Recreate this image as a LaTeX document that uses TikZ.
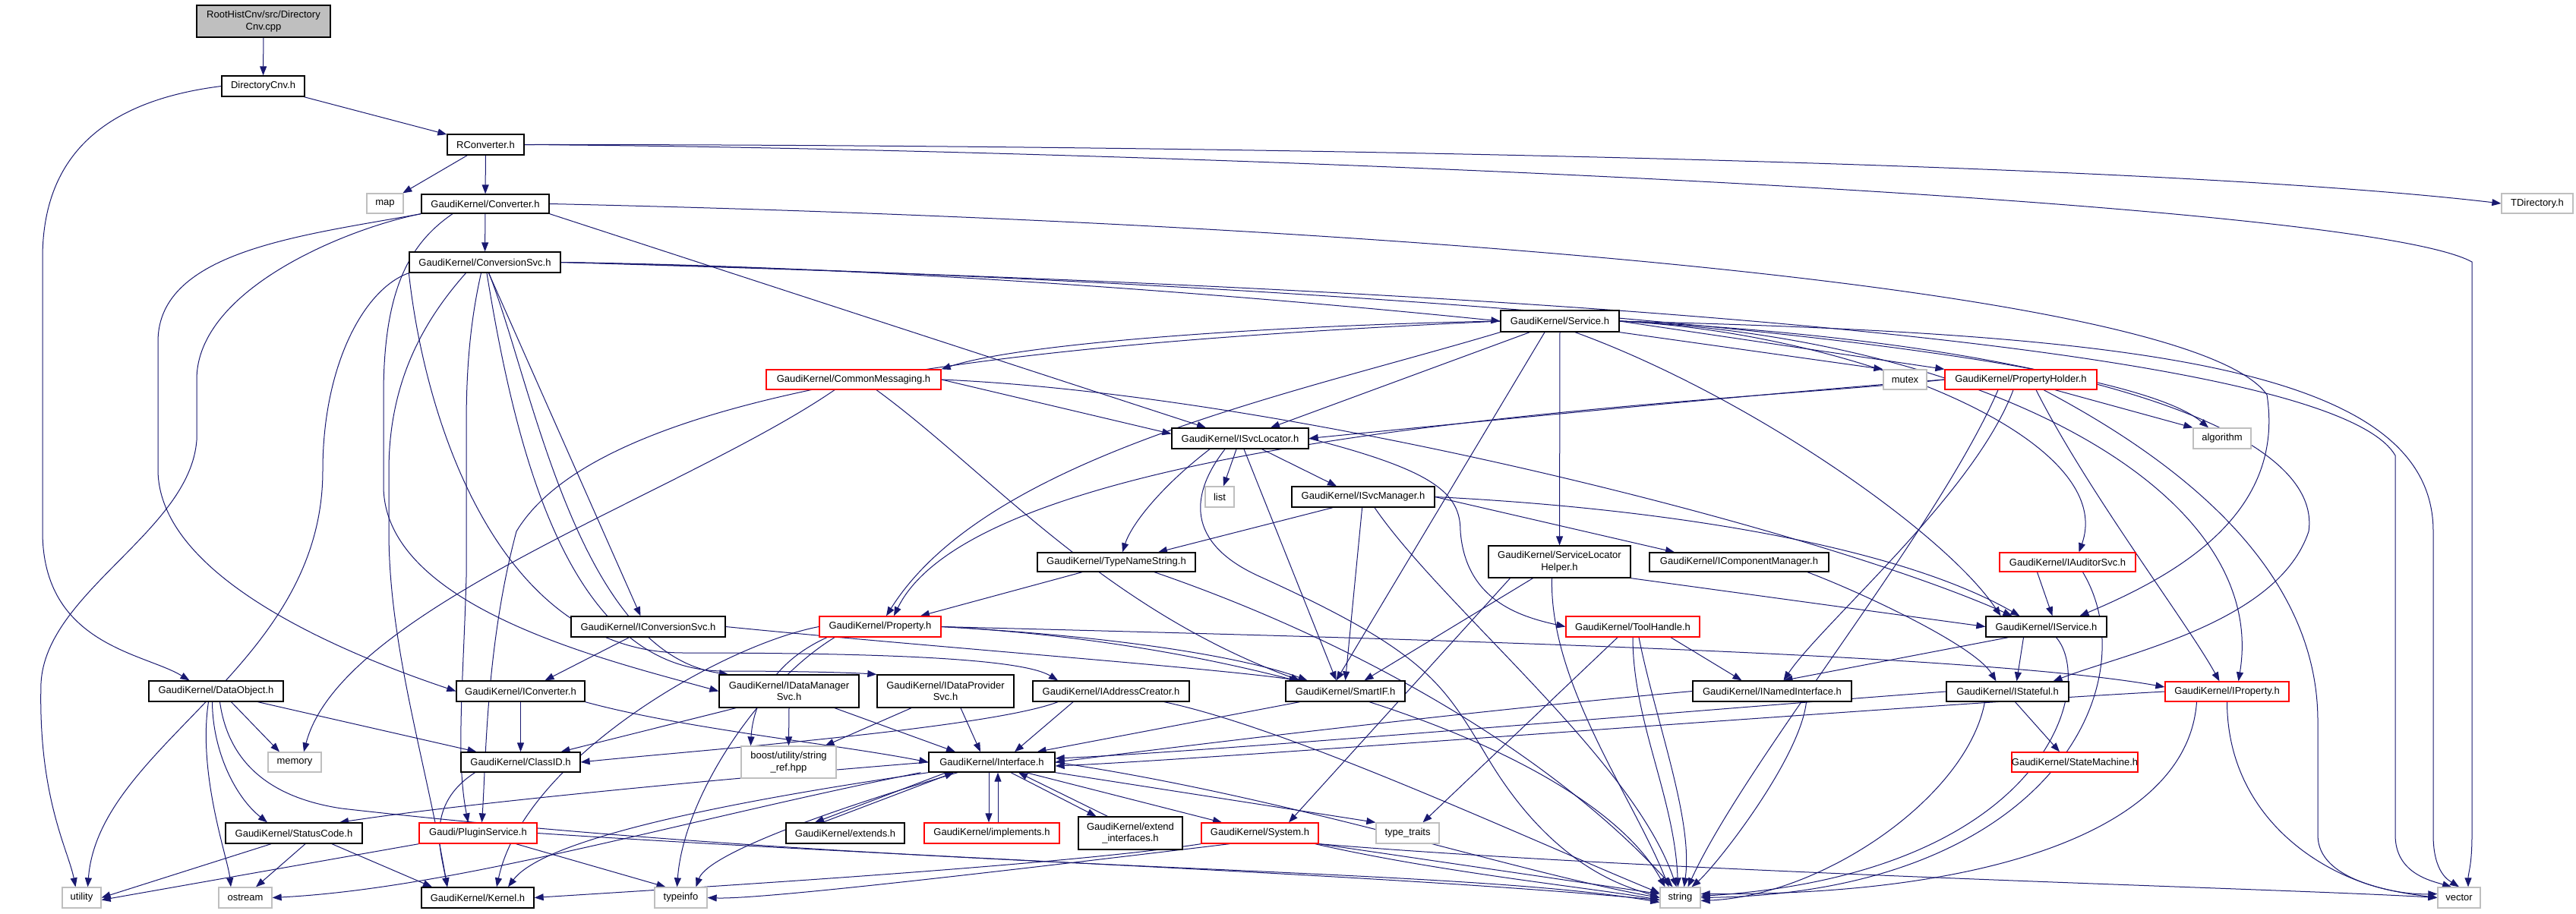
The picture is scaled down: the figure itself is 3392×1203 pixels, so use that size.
\documentclass[tikz,border=0pt]{standalone}
\usepackage{fontspec}
\setmainfont{Liberation Sans}
\usetikzlibrary{arrows.meta,backgrounds}
\definecolor{edgeblue}{HTML}{191970}
\definecolor{boxgray}{HTML}{BFBFBF}
\newcommand{\hfnt}{\fontsize{13}{15.5}\selectfont}
\newcommand{\incfile}[7]{\node[#1, minimum width=#5pt, minimum height=#6pt] (#2) at (#3,#4) {#7};}
\tikzset{
  hdr/.style={draw=black, line width=1.3pt, font=\hfnt, inner sep=0pt, align=center, fill=white},
  sysfile/.style={hdr, draw=boxgray},
  redfile/.style={hdr, draw=red},
  mainfile/.style={hdr, fill=boxgray},
  dep/.style={draw=edgeblue, line width=1pt, -{Triangle[length=12pt,width=9pt]}}
}

\begin{document}
\begin{tikzpicture}[x=1pt,y=-1pt]
  \useasboundingbox (0,0) rectangle (3392,1203);
  % files
  \incfile{mainfile}{root}{347}{28}{176}{42}{RootHistCnv/src/Directory\\Cnv.cpp}
  \incfile{hdr}{dircnv}{346.5}{113.5}{109}{27}{DirectoryCnv.h}
  \incfile{hdr}{rconv}{639.5}{190.5}{101}{27}{RConverter.h}
  \incfile{sysfile}{map}{507}{268}{48}{26}{map}
  \incfile{hdr}{converter}{639}{268.5}{168}{25}{GaudiKernel/Converter.h}
  \incfile{hdr}{convsvc}{638.5}{345.5}{199}{27}{GaudiKernel/ConversionSvc.h}
  \incfile{sysfile}{tdir}{3341}{268}{94}{26}{TDirectory.h}
  \incfile{hdr}{service}{2054}{423}{156}{28}{GaudiKernel/Service.h}
  \incfile{redfile}{commsg}{1124}{500}{230}{26}{GaudiKernel/CommonMessaging.h}
  \incfile{sysfile}{mutex}{2508.5}{500}{57}{26}{mutex}
  \incfile{redfile}{propholder}{2661}{500}{200}{26}{GaudiKernel/PropertyHolder.h}
  \incfile{hdr}{isvcloc}{1633}{577.5}{180}{27}{GaudiKernel/ISvcLocator.h}
  \incfile{sysfile}{algorithm}{2926}{577.5}{76}{27}{algorithm}
  \incfile{sysfile}{list}{1606}{654.5}{38}{27}{list}
  \incfile{hdr}{isvcmgr}{1795}{654.5}{188}{27}{GaudiKernel/ISvcManager.h}
  \incfile{hdr}{typename}{1470}{740.5}{208}{25}{GaudiKernel/TypeNameString.h}
  \incfile{hdr}{slh}{2053.5}{740}{187}{42}{GaudiKernel/ServiceLocator\\Helper.h}
  \incfile{hdr}{icompmgr}{2290}{740.5}{236}{25}{GaudiKernel/IComponentManager.h}
  \incfile{redfile}{iauditor}{2722.5}{740.5}{179}{25}{GaudiKernel/IAuditorSvc.h}
  \incfile{hdr}{iconvsvc}{853.5}{825.5}{203}{27}{GaudiKernel/IConversionSvc.h}
  \incfile{redfile}{property}{1159}{825.5}{160}{27}{GaudiKernel/Property.h}
  \incfile{redfile}{toolhandle}{2150}{825.5}{176}{27}{GaudiKernel/ToolHandle.h}
  \incfile{hdr}{iservice}{2694.5}{825.5}{159}{27}{GaudiKernel/IService.h}
  \incfile{hdr}{dataobj}{284.5}{910.5}{177}{27}{GaudiKernel/DataObject.h}
  \incfile{hdr}{iconverter}{685.5}{910.5}{169}{27}{GaudiKernel/IConverter.h}
  \incfile{hdr}{idatamgr}{1039}{910.5}{184}{43}{GaudiKernel/IDataManager\\Svc.h}
  \incfile{hdr}{idataprov}{1245}{910.5}{180}{43}{GaudiKernel/IDataProvider\\Svc.h}
  \incfile{hdr}{iaddr}{1463}{910.5}{206}{27}{GaudiKernel/IAddressCreator.h}
  \incfile{hdr}{smartif}{1771.5}{910.5}{157}{27}{GaudiKernel/SmartIF.h}
  \incfile{hdr}{inamed}{2333.5}{910.5}{209}{27}{GaudiKernel/INamedInterface.h}
  \incfile{hdr}{istateful}{2643.5}{911}{161}{26}{GaudiKernel/IStateful.h}
  \incfile{redfile}{iproperty}{2932.5}{911}{163}{26}{GaudiKernel/IProperty.h}
  \incfile{sysfile}{memory}{388}{1004}{70}{26}{memory}
  \incfile{hdr}{classid}{685.5}{1004}{157}{26}{GaudiKernel/ClassID.h}
  \incfile{sysfile}{boost}{1038.5}{1004}{125}{42}{boost/utility/string\\\_ref.hpp}
  \incfile{hdr}{interface}{1306}{1004}{166}{26}{GaudiKernel/Interface.h}
  \incfile{redfile}{statemachine}{2732}{1004}{160}{26}{GaudiKernel/StateMachine.h}
  \incfile{hdr}{statuscode}{387}{1097.5}{180}{27}{GaudiKernel/StatusCode.h}
  \incfile{redfile}{plugin}{629.5}{1097.5}{155}{27}{Gaudi/PluginService.h}
  \incfile{hdr}{extends}{1113}{1097.5}{156}{27}{GaudiKernel/extends.h}
  \incfile{redfile}{implements}{1306}{1097.5}{178}{27}{GaudiKernel/implements.h}
  \incfile{hdr}{extendif}{1488.5}{1097.5}{137}{43}{GaudiKernel/extend\\\_interfaces.h}
  \incfile{redfile}{system}{1659}{1097.5}{154}{27}{GaudiKernel/System.h}
  \incfile{sysfile}{typetraits}{1853.5}{1097.5}{83}{27}{type\_traits}
  \incfile{sysfile}{utility}{107.5}{1182.5}{51}{27}{utility}
  \incfile{sysfile}{ostream}{323}{1182.5}{70}{27}{ostream}
  \incfile{hdr}{kernel}{629}{1182.5}{148}{27}{GaudiKernel/Kernel.h}
  \incfile{sysfile}{typeinfo}{896.5}{1182.5}{69}{27}{typeinfo}
  \incfile{sysfile}{string}{2212.5}{1182.5}{53}{27}{string}
  \incfile{sysfile}{vector}{3238}{1182.5}{56}{27}{vector}

  \begin{pgfonlayer}{background}
  % top of the graph
  \draw[dep] (root) -- (dircnv);
  \draw[dep] (dircnv) -- (rconv);
  \draw[dep] (dircnv.west) .. controls (120,135) and (56,220) .. (56,340) -- (56,700) .. controls (56,850) and (190,860) .. ([xshift=-35pt]dataobj.north);
  \draw[dep] (rconv) -- (map);
  \draw[dep] (rconv) -- (converter);
  \draw[dep] (rconv.east) .. controls (1500,190) and (2800,210) .. (tdir.west);
  \draw[dep] (rconv.east) .. controls (1500,196) and (3100,260) .. (3255,345) -- (3255,1100) .. controls (3255,1140) and (3250,1150) .. ([xshift=12pt]vector.north);
  % Converter.h
  \draw[dep] (converter) -- (convsvc);
  \draw[dep] (converter.south east) -- ([xshift=-45pt]isvcloc.north);
  \draw[dep] (converter.east) .. controls (1700,290) and (2880,370) .. (2985,520) .. controls (3010,680) and (2860,760) .. ([xshift=44pt]iservice.north);
  \draw[dep] (converter.south west) .. controls (400,310) and (208,330) .. (208,450) -- (208,620) .. controls (210,760) and (450,860) .. (iconverter.west);
  \draw[dep] (converter.south west) .. controls (460,300) and (259,380) .. (259,500) -- (259,580) .. controls (250,700) and (60,780) .. (54,900) .. controls (50,1050) and (90,1120) .. ([xshift=-8pt]utility.north);
  \draw[dep] ([xshift=-43pt]converter.south) .. controls (540,320) and (505,380) .. (505,520) -- (505,640) .. controls (505,800) and (800,870) .. (idatamgr.west);
  % ConversionSvc.h
  \draw[dep] (convsvc.east) .. controls (1200,352) and (1700,395) .. (service.west);
  \draw[dep] (convsvc.east) .. controls (1400,360) and (2750,430) .. ([xshift=-18pt]algorithm.north);
  \draw[dep] (convsvc.east) .. controls (1500,368) and (3050,420) .. (3154,600) -- (3154,1100) .. controls (3154,1150) and (3200,1160) .. ([xshift=-10pt]vector.north);
  \draw[dep] ([xshift=5pt]convsvc.south) -- ([xshift=-10pt]iconvsvc.north);
  \draw[dep] ([xshift=-5pt]convsvc.south) .. controls (620,420) and (614,480) .. (614,560) -- (614,760) .. controls (610,900) and (600,1000) .. ([xshift=-13pt]plugin.north);
  \draw[dep] ([xshift=-25pt]convsvc.south) .. controls (560,420) and (512,500) .. (512,620) -- (512,700) .. controls (512,850) and (560,1000) .. ([xshift=-40pt]kernel.north);
  \draw[dep] (convsvc.south west) .. controls (560,560) and (660,860) .. (900,860) .. controls (1200,860) and (1350,870) .. ([xshift=-70pt]iaddr.north);
  \draw[dep] (convsvc.-70) .. controls (700,500) and (760,860) .. ([xshift=-80pt]idatamgr.north);
  \draw[dep] (convsvc.-80) .. controls (680,600) and (750,880) .. (950,884) .. controls (1050,884) and (1120,886) .. (idataprov.north west);
  \draw[dep] (convsvc.south west) .. controls (480,380) and (425,480) .. (425,620) .. controls (425,880) and (130,980) .. ([xshift=8pt]utility.north);
  % Service.h
  \draw[dep] (service.west) .. controls (1700,428) and (1350,450) .. (commsg.north east);
  \draw[dep] (service) -- ([xshift=40pt]isvcloc.north);
  \draw[dep] (service.south east) -- (mutex.north west);
  \draw[dep] (service.east) -- (propholder.north west);
  \draw[dep] (service.south west) .. controls (1700,520) and (1300,600) .. ([xshift=8pt]property.north);
  \draw[dep] (service) -- (slh);
  \draw[dep] ([xshift=20pt]service.south) .. controls (2300,520) and (2560,700) .. ([xshift=-60pt]iservice.north);
  \draw[dep] ([xshift=-20pt]service.south) -- ([xshift=-12pt]smartif.north);
  \draw[dep] (service.east) .. controls (2450,440) and (2790,580) .. ([xshift=15pt]iauditor.north);
  \draw[dep] (service.east) .. controls (2600,445) and (2990,640) .. ([xshift=15pt]iproperty.north);
  \draw[dep] (service.east) .. controls (2700,450) and (3060,560) .. (3040,700) .. controls (3000,820) and (2800,860) .. ([xshift=60pt]istateful.north);
  \draw[dep] (service.east) .. controls (2800,440) and (3204,480) .. (3204,700) -- (3204,1100) .. controls (3204,1150) and (3225,1160) .. (vector.north);
  \draw[dep] (service.west) .. controls (1400,450) and (800,500) .. (680,700) .. controls (640,850) and (640,1000) .. ([xshift=5pt]plugin.north);
  % CommonMessaging.h
  \draw[dep] (commsg.east) -- ([yshift=6pt]isvcloc.west);
  \draw[dep] (commsg.east) .. controls (1700,520) and (2400,700) .. ([xshift=-45pt]iservice.north);
  \draw[dep] ([xshift=30pt]commsg.south) .. controls (1300,620) and (1450,800) .. ([xshift=-60pt]smartif.north);
  \draw[dep] ([xshift=-25pt]commsg.south) .. controls (900,650) and (450,800) .. ([xshift=12pt]memory.north);
  % PropertyHolder.h
  \draw[dep] (propholder.west) .. controls (2300,520) and (1900,560) .. (isvcloc.east);
  \draw[dep] ([xshift=45pt]propholder.south) -- (algorithm.north west);
  \draw[dep] ([xshift=-10pt]propholder.south) .. controls (2600,650) and (2400,820) .. ([xshift=15pt]inamed.north);
  \draw[dep] ([xshift=20pt]propholder.south) .. controls (2750,650) and (2880,820) .. ([xshift=-10pt]iproperty.north);
  \draw[dep] (propholder.west) .. controls (2300,530) and (1300,560) .. ([xshift=18pt]property.north);
  \draw[dep] ([xshift=30pt]propholder.south) .. controls (2950,650) and (3052,800) .. (3052,950) -- (3052,1100) .. controls (3052,1160) and (3150,1175) .. (vector.west);
  \draw[dep] ([xshift=-30pt]propholder.south) .. controls (2550,700) and (2300,1000) .. ([xshift=10pt]string.north);
  % ISvcLocator.h
  \draw[dep] (isvcloc) -- (list);
  \draw[dep] (isvcloc) -- ([xshift=-35pt]isvcmgr.north);
  \draw[dep] ([xshift=-40pt]isvcloc.south) .. controls (1530,640) and (1490,690) .. ([xshift=8pt]typename.north);
  \draw[dep] ([xshift=5pt]isvcloc.south) -- ([xshift=-12pt]smartif.north);
  \draw[dep] ([xshift=-20pt]isvcloc.south) .. controls (1560,660) and (1570,720) .. (1660,760) .. controls (1880,860) and (1900,900) .. (1960,1000) .. controls (2050,1150) and (2150,1170) .. (string.west);
  \draw[dep] (isvcloc.east) .. controls (1890,620) and (1923,650) .. (1923,700) .. controls (1930,790) and (2000,812) .. (toolhandle.west);
  % ISvcManager.h
  \draw[dep] ([xshift=-40pt]isvcmgr.south) -- ([xshift=55pt]typename.north);
  \draw[dep] (isvcmgr) -- (smartif.north);
  \draw[dep] ([xshift=15pt]isvcmgr.south) .. controls (1900,800) and (2150,1000) .. ([xshift=-5pt]string.north);
  \draw[dep] (isvcmgr.east) -- ([xshift=-85pt]icompmgr.north);
  \draw[dep] (isvcmgr.east) .. controls (2200,670) and (2500,720) .. ([xshift=-35pt]iservice.north);
  \draw[dep] ([xshift=90pt]icompmgr.south) .. controls (2450,780) and (2600,850) .. ([xshift=-15pt]istateful.north);
  % TypeNameString.h and ServiceLocatorHelper.h
  \draw[dep] ([xshift=-45pt]typename.south) -- ([xshift=53pt]property.north);
  \draw[dep] ([xshift=50pt]typename.south) .. controls (1800,850) and (2050,1000) .. ([xshift=-10pt]string.north);
  \draw[dep] ([xshift=-35pt]slh.south) -- ([xshift=25pt]smartif.north);
  \draw[dep] (slh.south east) -- (iservice.west);
  \draw[dep] ([xshift=-10pt]slh.south) .. controls (2040,900) and (2150,1050) .. ([xshift=-15pt]string.north);
  \draw[dep] ([xshift=-65pt]slh.south) -- ([xshift=38pt]system.north);
  % ToolHandle.h
  \draw[dep] ([xshift=50pt]toolhandle.south) -- ([xshift=-40pt]inamed.north);
  \draw[dep] ([xshift=-20pt]toolhandle.south) -- ([xshift=20pt]typetraits.north);
  \draw[dep] (toolhandle.south) .. controls (2150,950) and (2205,1050) .. ([xshift=-3pt]string.north);
  \draw[dep] ([xshift=8pt]toolhandle.south) .. controls (2180,950) and (2230,1080) .. ([xshift=5pt]string.north);
  % IAuditorSvc.h, IService.h, INamedInterface.h, IStateful.h, IProperty.h
  \draw[dep] ([xshift=-40pt]iauditor.south) -- ([xshift=8pt]iservice.north);
  \draw[dep] ([xshift=20pt]iauditor.south) .. controls (2830,900) and (2700,1175) .. (string.east);
  \draw[dep] ([xshift=-50pt]iservice.south) -- ([xshift=15pt]inamed.north);
  \draw[dep] ([xshift=-30pt]iservice.south) -- ([xshift=12pt]istateful.north);
  \draw[dep] ([xshift=13pt]iservice.south) .. controls (2760,900) and (2700,1150) .. ([yshift=2pt]string.east);
  \draw[dep] (inamed.west) .. controls (1900,940) and (1500,990) .. (interface.east);
  \draw[dep] ([xshift=45pt]inamed.south) .. controls (2370,1000) and (2260,1140) .. ([xshift=15pt]string.north);
  \draw[dep] (istateful.west) .. controls (2300,930) and (1600,990) .. ([yshift=5pt]interface.east);
  \draw[dep] ([xshift=10pt]istateful.south) -- ([xshift=-20pt]statemachine.north);
  \draw[dep] ([xshift=-30pt]istateful.south) .. controls (2590,1050) and (2400,1180) .. ([yshift=-4pt]string.east);
  \draw[dep] (iproperty.west) .. controls (2500,930) and (1600,1000) .. ([yshift=-5pt]interface.east);
  \draw[dep] (iproperty.south) .. controls (2933,1100) and (3100,1180) .. ([yshift=5pt]vector.west);
  \draw[dep] ([xshift=-40pt]iproperty.south) .. controls (2880,1100) and (2600,1180) .. ([yshift=5pt]string.east);
  % Property.h
  \draw[dep] (property.east) .. controls (1800,840) and (2600,860) .. ([yshift=6pt]iproperty.west);
  \draw[dep] (property.west) .. controls (950,850) and (690,1000) .. ([xshift=25pt]kernel.north);
  \draw[dep] ([xshift=-70pt]property.south) .. controls (1000,880) and (990,950) .. ([xshift=-50pt]boost.north);
  \draw[dep] ([xshift=-60pt]property.south) .. controls (1000,900) and (900,1050) .. ([xshift=-5pt]typeinfo.north);
  \draw[dep] (property.east) .. controls (1500,840) and (1650,870) .. ([xshift=-50pt]smartif.north);
  \draw[dep] (property.east) .. controls (1700,850) and (2100,1000) .. ([xshift=-20pt]string.north);
  % IConversionSvc.h, IConverter.h, DataObject.h
  \draw[dep] ([xshift=-25pt]iconvsvc.south) -- ([xshift=32pt]iconverter.north);
  \draw[dep] (iconvsvc.east) .. controls (1200,850) and (1600,880) .. ([xshift=-62pt]smartif.north);
  \draw[dep] (iconverter) -- (classid);
  \draw[dep] (iconverter.south east) .. controls (900,960) and (1100,980) .. (interface.west);
  \draw[dep] ([xshift=55pt]dataobj.south) -- ([xshift=-58pt]classid.north);
  \draw[dep] ([xshift=20pt]dataobj.south) -- ([xshift=-20pt]memory.north);
  \draw[dep] ([xshift=-5pt]dataobj.south) .. controls (280,990) and (310,1050) .. ([xshift=-35pt]statuscode.north);
  \draw[dep] ([xshift=-10pt]dataobj.south) .. controls (260,1020) and (300,1130) .. ([xshift=-19pt]ostream.north);
  \draw[dep] ([xshift=5pt]dataobj.south) .. controls (300,1000) and (350,1050) .. (450,1065) .. controls (1200,1150) and (1900,1140) .. ([yshift=-6pt]string.west);
  % lower files
  \draw[dep] ([xshift=-60pt]classid.south) .. controls (560,1060) and (580,1120) .. ([xshift=-40pt]kernel.north);
  \draw[dep] ([xshift=-30pt]statuscode.south) -- (utility.east);
  \draw[dep] ([xshift=15pt]statuscode.south) -- ([xshift=14pt]ostream.north);
  \draw[dep] ([xshift=50pt]statuscode.south) -- ([xshift=-60pt]kernel.north);
  \draw[dep] (plugin.south west) -- ([yshift=-3pt]utility.east);
  \draw[dep] ([xshift=50pt]plugin.south) -- ([xshift=-20pt]typeinfo.north);
  \draw[dep] (plugin.east) .. controls (1200,1130) and (1800,1150) .. ([yshift=-3pt]string.west);
  % Interface.h
  \draw[dep] (interface.west) .. controls (900,1030) and (600,1060) .. ([xshift=60pt]statuscode.north);
  \draw[dep] (interface.south west) .. controls (1000,1050) and (720,1100) .. ([xshift=40pt]kernel.north);
  \draw[dep] ([xshift=-10pt]interface.south west) .. controls (900,1080) and (600,1170) .. (ostream.east);
  \draw[dep] ([xshift=-45pt]interface.south) .. controls (1050,1080) and (930,1130) .. ([xshift=20pt]typeinfo.north);
  \draw[dep] ([xshift=-60pt]interface.south) -- ([xshift=-40pt]extends.north);
  \draw[dep] ([xshift=-30pt]extends.north) -- ([xshift=-50pt]interface.south);
  \draw[dep] ([xshift=-4pt]interface.south) -- ([xshift=-4pt]implements.north);
  \draw[dep] ([xshift=8pt]implements.north) -- ([xshift=8pt]interface.south);
  \draw[dep] ([xshift=25pt]interface.south) -- ([xshift=-45pt]extendif.north);
  \draw[dep] ([xshift=-30pt]extendif.north) -- ([xshift=35pt]interface.south);
  \draw[dep] ([xshift=45pt]interface.south) -- ([xshift=-50pt]system.north);
  \draw[dep] (interface.south east) -- (typetraits.north west);
  \draw[dep] (interface.east) .. controls (1700,1050) and (2000,1150) .. (string.west);
  % System.h
  \draw[dep] (system.south west) .. controls (1400,1140) and (900,1170) .. (kernel.east);
  \draw[dep] ([xshift=-40pt]system.south) .. controls (1300,1150) and (1000,1185) .. (typeinfo.east);
  \draw[dep] (system.south east) -- ([yshift=5pt]string.west);
  \draw[dep] ([xshift=-5pt]system.south east) .. controls (1900,1150) and (2100,1170) .. ([yshift=-3pt]string.west);
  \draw[dep] (system.south east) .. controls (2200,1150) and (3000,1170) .. (vector.west);
  % data services
  \draw[dep] ([xshift=-70pt]idatamgr.south) -- ([xshift=53pt]classid.north);
  \draw[dep] (idatamgr.south) -- (boost.north);
  \draw[dep] ([xshift=60pt]idatamgr.south) -- ([xshift=-48pt]interface.north);
  \draw[dep] ([xshift=-45pt]idataprov.south) -- ([xshift=48pt]boost.north);
  \draw[dep] ([xshift=20pt]idataprov.south) -- ([xshift=-15pt]interface.north);
  \draw[dep] ([xshift=-50pt]iaddr.south) -- ([xshift=30pt]interface.north);
  \draw[dep] ([xshift=-70pt]iaddr.south) .. controls (1300,960) and (900,990) .. (classid.east);
  \draw[dep] ([xshift=70pt]iaddr.south) .. controls (1700,960) and (2000,1100) .. ([yshift=6pt]string.west);
  \draw[dep] ([xshift=-60pt]smartif.south) -- ([xshift=-24pt]interface.north east);
  \end{pgfonlayer}
\end{tikzpicture}
\end{document}
